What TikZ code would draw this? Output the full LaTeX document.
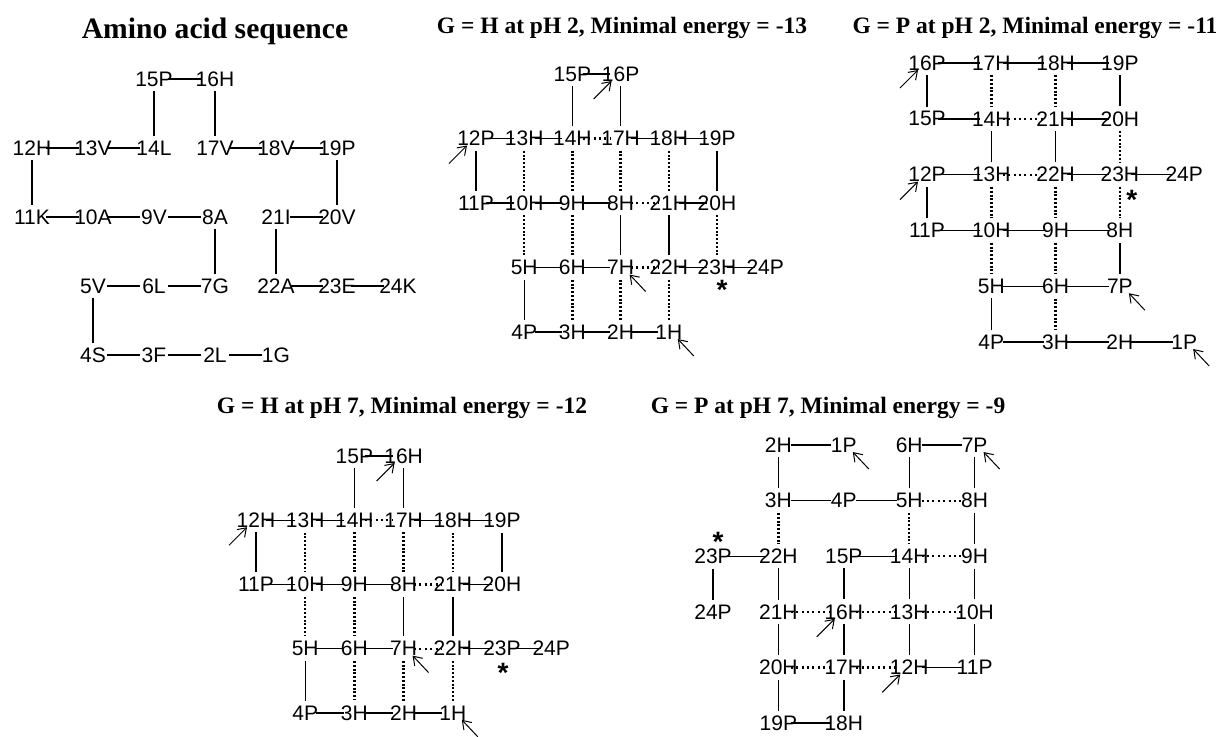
\documentclass[tikz,border=0pt]{standalone}
\usepackage{fontspec}
\setmainfont{Liberation Serif}
\newfontfamily\resfont{Liberation Sans}
\usetikzlibrary{arrows.meta}
\tikzset{
  res/.style={
    inner ysep=2.25pt, inner xsep=5pt,
    font=\resfont\fontsize{10.5}{12}\selectfont
  },
  bond/.style={line width=0.7pt},
  vcontact/.style={line width=1.2pt, dash pattern=on 1pt off 0.9pt},
  hcontact/.style={line width=1.1pt, dash pattern=on 1pt off 1.7pt},
  endmark/.style={-{Straight Barb[length=4pt,width=5.5pt]}, line width=0.5pt},
  coremark/.style={inner sep=0pt, font=\resfont\bfseries\fontsize{14}{14}\selectfont},
  paneltitle/.style={anchor=base, font=\bfseries\fontsize{11.75}{14}\selectfont}
}

\begin{document}
\begin{tikzpicture}[x=0.5pt, y=-0.5pt]
  \useasboundingbox (0,0) rectangle (1222,736);
  % Titles
  \node[paneltitle, font=\bfseries\fontsize{14.8}{17}\selectfont] (ttla) at (215,38) {Amino acid sequence};
  \node[paneltitle] (ttlb) at (622,33) {G = H at pH 2, Minimal energy = -13};
  \node[paneltitle] (ttlc) at (1035,33) {G = P at pH 2, Minimal energy = -11};
  \node[paneltitle] (ttld) at (402,413) {G = H at pH 7, Minimal energy = -12};
  \node[paneltitle] (ttle) at (828,413) {G = P at pH 7, Minimal energy = -9};
  % Amino acid sequence
  \begin{scope}[shift={(32,79)}, x=30.5pt, y=-34.5pt, res/.append style={inner xsep=7pt}]
    \foreach \num/\acid/\col/\row in {1/G/4/4,2/L/3/4,3/F/2/4,4/S/1/4,5/V/1/3,6/L/2/3,
        7/G/3/3,8/A/3/2,9/V/2/2,10/A/1/2,11/K/0/2,12/H/0/1,13/V/1/1,14/L/2/1,15/P/2/0,
        16/H/3/0,17/V/3/1,18/V/4/1,19/P/5/1,20/V/5/2,21/I/4/2,22/A/4/3,23/E/5/3,24/K/6/3}
      \node[res] (a\num) at (\col,\row) {\makebox[0pt]{\num\acid}};
  \end{scope}
  % G = H at pH 2
  \begin{scope}[shift={(476,74)}, x=24.1pt, y=-32.25pt]
    \foreach \num/\acid/\col/\row in {1/H/4/4,2/H/3/4,3/H/2/4,4/P/1/4,5/H/1/3,6/H/2/3,
        7/H/3/3,8/H/3/2,9/H/2/2,10/H/1/2,11/P/0/2,12/P/0/1,13/H/1/1,14/H/2/1,15/P/2/0,
        16/P/3/0,17/H/3/1,18/H/4/1,19/P/5/1,20/H/5/2,21/H/4/2,22/H/4/3,23/H/5/3,24/P/6/3}
      \node[res] (b\num) at (\col,\row) {\makebox[0pt]{\num\acid}};
  \end{scope}
  % G = P at pH 2
  \begin{scope}[shift={(927,63)}, x=32.15pt, y=-27.9pt, res/.append style={inner xsep=5.5pt}]
    \foreach \num/\acid/\col/\row in {1/P/4/5,2/H/3/5,3/H/2/5,4/P/1/5,5/H/1/4,6/H/2/4,
        7/P/3/4,8/H/3/3,9/H/2/3,10/H/1/3,11/P/0/3,12/P/0/2,13/H/1/2,14/H/1/1,15/P/0/1,
        16/P/0/0,17/H/1/0,18/H/2/0,19/P/3/0,20/H/3/1,21/H/2/1,22/H/2/2,23/H/3/2,24/P/4/2}
      \node[res] (c\num) at (\col,\row) {\makebox[0pt]{\num\acid}};
  \end{scope}
  % G = H at pH 7
  \begin{scope}[shift={(256,456)}, x=24.6pt, y=-32.1pt]
    \foreach \num/\acid/\col/\row in {1/H/4/4,2/H/3/4,3/H/2/4,4/P/1/4,5/H/1/3,6/H/2/3,
        7/H/3/3,8/H/3/2,9/H/2/2,10/H/1/2,11/P/0/2,12/H/0/1,13/H/1/1,14/H/2/1,15/P/2/0,
        16/H/3/0,17/H/3/1,18/H/4/1,19/P/5/1,20/H/5/2,21/H/4/2,22/H/4/3,23/P/5/3,24/P/6/3}
      \node[res] (d\num) at (\col,\row) {\makebox[0pt]{\num\acid}};
  \end{scope}
  % G = P at pH 7
  \begin{scope}[shift={(713,445)}, x=32.7pt, y=-27.8pt, res/.append style={inner xsep=6pt}]
    \foreach \num/\acid/\col/\row in {1/P/2/0,2/H/1/0,3/H/1/1,4/P/2/1,5/H/3/1,6/H/3/0,
        7/P/4/0,8/H/4/1,9/H/4/2,10/H/4/3,11/P/4/4,12/H/3/4,13/H/3/3,14/H/3/2,15/P/2/2,
        16/H/2/3,17/H/2/4,18/H/2/5,19/P/1/5,20/H/1/4,21/H/1/3,22/H/1/2,23/P/0/2,24/P/0/3}
      \node[res] (e\num) at (\col,\row) {\makebox[0pt]{\num\acid}};
  \end{scope}
  % Backbone
  \foreach \p in {a,b,c,d,e}
    \foreach \i [count=\j from 2] in {1,...,23}
      \draw[bond] (\p\i) -- (\p\j);
  % H-H contacts
  \foreach \u/\v in {14/17,8/21,7/22} \draw[hcontact] (b\u) -- (b\v);
  \foreach \u/\v in {13/10,14/9,17/8,18/21,10/5,9/6,20/23,6/3,7/2,22/1}
    \draw[vcontact] (b\u) -- (b\v);
  \foreach \u/\v in {14/21,13/22} \draw[hcontact] (c\u) -- (c\v);
  \foreach \u/\v in {17/14,18/21,20/23,23/8,13/10,22/9,10/5,9/6,6/3}
    \draw[vcontact] (c\u) -- (c\v);
  \foreach \u/\v in {14/17,8/21,7/22} \draw[hcontact] (d\u) -- (d\v);
  \foreach \u/\v in {13/10,14/9,17/8,18/21,10/5,9/6,6/3,7/2,22/1}
    \draw[vcontact] (d\u) -- (d\v);
  \foreach \u/\v in {5/8,14/9,21/16,16/13,13/10,20/17,17/12} \draw[hcontact] (e\u) -- (e\v);
  \foreach \u/\v in {3/22,5/14} \draw[vcontact] (e\u) -- (e\v);
  % Markers
  \foreach \p in {b,c,d,e} {
    \foreach \v in {12,16}
      \draw[endmark] ([shift={(-13.5pt,-12.5pt)}]\p\v.center) -- ([shift={(-4.5pt,-3.5pt)}]\p\v.center);
    \foreach \v in {1,7}
      \draw[endmark] ([shift={(12.5pt,-12pt)}]\p\v.center) -- ([shift={(4.5pt,-3.5pt)}]\p\v.center);
  }
  \node[coremark] (bcore) at ([shift={(2.5pt,-11pt)}]b23.center) {*};
  \node[coremark] (ccore) at ([shift={(6pt,-12.5pt)}]c23.center) {*};
  \node[coremark] (dcore) at ([shift={(0.5pt,-12pt)}]d23.center) {*};
  \node[coremark] (ecore) at ([shift={(2.5pt,7pt)}]e23.center) {*};
\end{tikzpicture}
\end{document}
